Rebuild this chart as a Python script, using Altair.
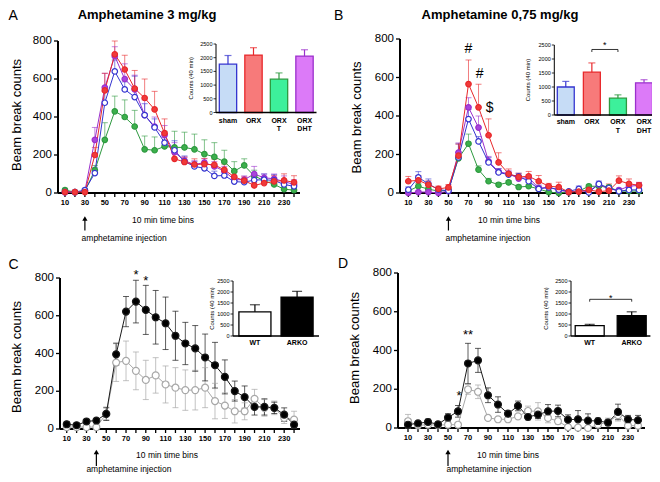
import altair as alt
import pandas as pd

W, H = 644, 466
FONT = "Liberation Sans"

bins = list(range(10, 241, 10))
y_ticks_main = [0, 200, 400, 600, 800]
y_ticks_inset = [0, 500, 1000, 1500, 2000, 2500]

# ---------------- Panel A: Amphetamine 3 mg/kg ----------------
a_groups = ["sham", "ORX", "ORX T", "ORX DHT"]
a_sham = [5, 5, 15, 105, 475, 640, 545, 505, 410, 345, 265, 225, 165, 140, 130, 90, 92, 60, 57, 68, 70, 66, 45, 35]
a_sham_sem = [10, 5, 10, 30, 60, 60, 40, 110, 60, 45, 45, 50, 30, 25, 30, 25, 25, 15, 15, 25, 30, 30, 25, 25]
a_orx = [5, 5, 5, 200, 540, 730, 650, 550, 500, 440, 315, 180, 163, 150, 152, 148, 122, 85, 65, 40, 52, 61, 66, 56]
a_orx_sem = [5, 5, 5, 40, 90, 70, 75, 95, 100, 95, 75, 40, 25, 30, 30, 30, 30, 25, 20, 15, 20, 30, 35, 35]
a_orxt = [15, 5, 10, 120, 280, 430, 400, 350, 230, 225, 245, 240, 240, 230, 205, 190, 165, 115, 145, 90, 65, 45, 20, 15]
a_orxt_sem = [10, 5, 10, 25, 90, 80, 90, 85, 70, 70, 80, 85, 80, 80, 75, 75, 60, 50, 35, 30, 20, 20, 15, 15]
a_dht = [5, 5, 10, 280, 555, 720, 600, 545, 410, 350, 305, 215, 170, 150, 160, 140, 115, 70, 70, 100, 80, 75, 60, 45]
a_dht_sem = [5, 5, 5, 65, 75, 50, 80, 75, 80, 50, 50, 50, 20, 20, 20, 25, 25, 15, 20, 40, 20, 25, 30, 25]
a_inset = [1765, 2095, 1215, 2060]
a_inset_sem = [315, 270, 230, 230]

# ---------------- Panel B: Amphetamine 0,75 mg/kg ----------------
b_sham = [17, 81, 48, 17, 12, 185, 384, 268, 159, 107, 95, 87, 61, 21, 29, 17, 9, 21, 3, 47, 26, 9, 16, 16]
b_sham_sem = [15, 30, 25, 15, 10, 70, 50, 25, 25, 20, 15, 15, 20, 20, 10, 15, 5, 15, 15, 15, 10, 10, 10, 10]
b_orx = [61, 66, 43, 21, 29, 194, 566, 445, 300, 159, 100, 83, 87, 61, 35, 31, 5, 7, 16, 7, 12, 64, 48, 40]
b_orx_sem = [25, 25, 20, 15, 15, 60, 125, 120, 85, 50, 25, 20, 25, 30, 15, 25, 10, 10, 10, 10, 35, 25, 25, 15]
b_orxt = [10, 35, 20, 10, 15, 180, 256, 121, 61, 43, 55, 31, 35, 21, 5, 0, 5, 10, 35, 35, 30, 10, 10, 10]
b_orxt_sem = [10, 15, 10, 10, 10, 30, 50, 20, 15, 10, 10, 10, 10, 10, 5, 5, 5, 10, 10, 10, 10, 5, 5, 5]
b_dht = [0, 5, 5, 0, 10, 210, 445, 340, 165, 110, 100, 75, 80, 25, 30, 15, 5, 10, 10, 45, 20, 15, 35, 40]
b_dht_sem = [5, 5, 5, 5, 5, 50, 50, 60, 25, 15, 15, 15, 15, 10, 10, 10, 5, 10, 10, 10, 10, 10, 15, 15]
b_inset = [1000, 1530, 600, 1150]
b_inset_sem = [200, 330, 120, 110]
b_sig_text = ["#", "#", "$"]
b_sig_bin = [70, 81, 91]
b_sig_y = [750, 620, 440]

# ---------------- Panel C ----------------
c_groups = ["WT", "ARKO"]
c_wt = [10, 10, 10, 10, 80, 352, 361, 308, 260, 284, 236, 219, 206, 206, 219, 148, 124, 94, 94, 160, 112, 112, 59, 50]
c_wt_sem = [5, 5, 5, 5, 30, 100, 105, 100, 104, 94, 98, 106, 107, 105, 106, 94, 68, 62, 45, 50, 44, 36, 30, 44]
c_arko = [25, 20, 40, 45, 80, 396, 622, 675, 631, 592, 560, 494, 453, 427, 379, 338, 276, 201, 169, 117, 117, 112, 76, 23]
c_arko_sem = [15, 10, 10, 10, 35, 59, 80, 113, 130, 142, 139, 130, 112, 121, 124, 121, 90, 53, 59, 43, 43, 30, 36, 15]
c_inset = [1100, 1770]
c_inset_sem = [320, 260]
c_sig_text = ["*", "*"]
c_sig_bin = [80, 90]
c_sig_y = [818, 783]

# ---------------- Panel D ----------------
d_wt = [35, 14, 17, 15, 17, 17, 199, 187, 52, 45, 45, 60, 88, 86, 52, 35, 5, 2, 0, 17, 31, 66, 12, 12]
d_wt_sem = [35, 10, 10, 10, 10, 10, 25, 35, 10, 10, 10, 10, 25, 45, 25, 15, 10, 10, 10, 15, 20, 30, 10, 10]
d_arko = [17, 24, 31, 19, 54, 86, 333, 349, 169, 121, 74, 114, 57, 69, 86, 88, 43, 45, 38, 36, 28, 83, 45, 40]
d_arko_sem = [10, 10, 15, 10, 20, 30, 104, 62, 38, 40, 15, 25, 15, 20, 35, 30, 25, 45, 35, 15, 15, 40, 20, 25]
d_inset = [470, 925]
d_inset_sem = [60, 175]
d_sig_text = ["**", "*"]
d_sig_bin = [70, 61]
d_sig_y = [480, 165]

# colours
ab_line = ["#3535d0", "#e8282b", "#2e9a40", "#9b30cc"]
ab_pts = ["#ffffff", "#f03a3a", "#3cb04c", "#a845dc"]
ab_inset_fill = ["#c6dcf6", "#f77a7a", "#3df09b", "#dc7af8"]
cd_line = ["#a8a8a8", "#1a1a1a"]
cd_pts = ["#ffffff", "#000000"]
cd_inset_fill = ["#ffffff", "#000000"]
cd_inset_stroke = ["#000000", "#000000"]


def txt(**kw):
    base = dict(font=FONT, color="black")
    base.update(kw)
    return base


def main_panel(groups, means, sems, draw_order, cfg, colors, fills, two_sided,
               pt_size, err_op, sig=None):
    rows = []
    for g in draw_order:
        i = groups.index(g)
        for b, mv, sv in zip(bins, means[i], sems[i]):
            rows.append({"bin": b, "group": g, "mean": mv,
                         "lo": (mv - sv) if two_sided else mv, "hi": mv + sv})
    df = pd.DataFrame(rows)
    xs = alt.Scale(domain=cfg["xdom"], range=cfg["xrng"], nice=False, zero=False)
    ys = alt.Scale(domain=[0, 800], range=cfg["yrng"], nice=False)
    cs = alt.Scale(domain=groups, range=colors)
    fs = alt.Scale(domain=groups, range=fills)
    y0 = cfg["yrng"][0]
    x0 = cfg["xrng"][0]

    def X(f="bin"):
        return alt.X(f"{f}:Q", scale=xs, axis=None)

    def Y(f):
        return alt.Y(f"{f}:Q", scale=ys, axis=None)

    C = alt.Color("group:N", scale=cs, legend=None)
    base = alt.Chart(df)
    layers = []

    # ---- axes drawn from the panel scales ----
    tdf = pd.DataFrame({"bin": bins, "lab": [str(b) if b % 20 == 10 else "" for b in bins]})
    dom = pd.DataFrame({"a": [cfg["xdom"][0]], "b": [cfg["xdom"][1]], "y0": [0], "y1": [800]})
    ydf = pd.DataFrame({"v": y_ticks_main, "lab": [str(v) for v in y_ticks_main]})
    layers.append(alt.Chart(dom).mark_rule(color="black", strokeWidth=2).encode(
        X("a"), x2="b:Q", y=alt.value(y0)))
    layers.append(alt.Chart(dom).mark_rule(color="black", strokeWidth=2).encode(
        x=alt.value(x0), y=Y("y0"), y2="y1:Q"))
    layers.append(alt.Chart(tdf).mark_rule(color="black", strokeWidth=1.3).encode(
        X(), y=alt.value(y0), y2=alt.value(y0 + 4)))
    layers.append(alt.Chart(tdf).mark_text(**txt(baseline="top", fontSize=7.5, fontWeight="bold")).encode(
        X(), y=alt.value(y0 + 5.5), text="lab:N"))
    layers.append(alt.Chart(ydf).mark_rule(color="black", strokeWidth=1.3).encode(
        x=alt.value(x0 - 4), x2=alt.value(x0), y=Y("v")))
    layers.append(alt.Chart(ydf).mark_text(**txt(align="right", baseline="middle", fontSize=11.5)).encode(
        x=alt.value(x0 - 6), y=Y("v"), text="lab:N"))
    layers.append(alt.Chart(dom).mark_text(**txt(text="10 min time bins", baseline="middle",
                                                 fontSize=8.5)).encode(
        x=alt.value(cfg["xtitle"][0]), y=alt.value(y0 + cfg["xtitle"][1])))
    layers.append(alt.Chart(dom).mark_text(**txt(text="Beam break counts", baseline="middle",
                                                 align="center", angle=270, fontSize=13)).encode(
        x=alt.value(x0 + cfg["ytitle"][0]), y=alt.value(cfg["ytitle"][1])))

    # ---- data ----
    layers.append(base.mark_rule(strokeWidth=1, opacity=err_op).encode(
        X(), y=Y("lo"), y2="hi:Q", color=C))
    layers.append(base.mark_tick(orient="horizontal", size=6, thickness=1, opacity=err_op).encode(
        X(), y=Y("hi"), color=C))
    if two_sided:
        layers.append(base.mark_tick(orient="horizontal", size=6, thickness=1, opacity=err_op).encode(
            X(), y=Y("lo"), color=C))
    layers.append(base.mark_line(strokeWidth=1).encode(X(), y=Y("mean"), color=C))
    layers.append(base.mark_point(filled=False, size=pt_size, strokeWidth=1.2, opacity=1).encode(
        X(), y=Y("mean"), color=C, fill=alt.Fill("group:N", scale=fs, legend=None)))

    # ---- injection arrow and label ----
    adf = pd.DataFrame({"t": [cfg["inj"]]})
    ab = alt.Chart(adf)
    ay0, ay1, aty, adx = cfg["arrow"]
    layers.append(ab.mark_rule(color="black", strokeWidth=1.2).encode(
        X("t"), y=alt.value(ay0 + 3), y2=alt.value(ay1)))
    layers.append(ab.mark_point(shape="triangle-up", filled=True, color="black", size=28, opacity=1).encode(
        X("t"), y=alt.value(ay0 + 2)))
    layers.append(ab.mark_text(**txt(text="amphetamine injection", align="left", baseline="middle",
                                     dx=adx, fontSize=8.5)).encode(X("t"), y=alt.value(aty)))
    if sig is not None:
        sdf = pd.DataFrame({"bin": sig[1], "y": sig[2], "txt": sig[0]})
        layers.append(alt.Chart(sdf).mark_text(**txt(baseline="middle", fontSize=sig[3])).encode(
            X(), y=Y("y"), text="txt:N"))
    return alt.layer(*layers)


def inset(groups, vals, sems, cfg, strokes, fills, cap, bracket=None):
    df = pd.DataFrame({"group": groups, "value": vals,
                       "hi": [v + s for v, s in zip(vals, sems)]})
    xs = alt.Scale(domain=groups, range=cfg["xrng"], paddingInner=cfg["pi"], paddingOuter=cfg["po"])
    ys = alt.Scale(domain=[0, 2500], range=cfg["yrng"], nice=False)
    ss = alt.Scale(domain=groups, range=strokes)
    fs = alt.Scale(domain=groups, range=fills)
    xr0, xr1 = cfg["xrng"]
    yr0, yr1 = cfg["yrng"]

    def X(f="group"):
        return alt.X(f"{f}:N", scale=xs, axis=None)

    def Y(f):
        return alt.Y(f"{f}:Q", scale=ys, axis=None)

    base = alt.Chart(df)
    ydf = pd.DataFrame({"v": y_ticks_inset, "lab": [str(v) for v in y_ticks_inset]})
    dom = pd.DataFrame({"y0": [0], "y1": [2500]})
    layers = [
        base.mark_bar(strokeWidth=1.3).encode(
            X(), y=Y("value"),
            fill=alt.Fill("group:N", scale=fs, legend=None),
            stroke=alt.Stroke("group:N", scale=ss, legend=None)),
        base.mark_rule(strokeWidth=1.2).encode(
            X(), y=Y("value"), y2="hi:Q", stroke=alt.Stroke("group:N", scale=ss, legend=None)),
        base.mark_tick(orient="horizontal", size=cap, thickness=1.2).encode(
            X(), y=Y("hi"), color=alt.Color("group:N", scale=ss, legend=None)),
        # axes
        alt.Chart(dom).mark_rule(color="black", strokeWidth=1.5).encode(
            x=alt.value(xr0), x2=alt.value(xr1), y=Y("y0")),
        alt.Chart(dom).mark_rule(color="black", strokeWidth=1).encode(
            x=alt.value(xr0), y=Y("y0"), y2="y1:Q"),
        alt.Chart(ydf).mark_rule(color="black", strokeWidth=0.8).encode(
            x=alt.value(xr0 - 2.5), x2=alt.value(xr0), y=Y("v")),
        alt.Chart(ydf).mark_text(**txt(align="right", baseline="middle", fontSize=5.5)).encode(
            x=alt.value(xr0 - 3.5), y=Y("v"), text="lab:N"),
        alt.Chart(dom).mark_text(**txt(text="Counts (40 min)", align="center", baseline="middle",
                                       angle=270, fontSize=6)).encode(
            x=alt.value(xr0 + cfg["tx"]), y=alt.value((yr0 + yr1) / 2)),
        base.mark_text(**txt(baseline="top", fontSize=7, fontWeight="bold", lineBreak=" ",
                             lineHeight=8.5)).encode(
            X(), y=alt.value(yr0 + cfg["lp"]), text="group:N"),
    ]
    if bracket is not None:
        g1, g2, yb, yd, ystar, dx = bracket
        bdf = pd.DataFrame({"a": [g1], "b": [g2], "y": [yb], "yd": [yd], "ys": [ystar]})
        bb = alt.Chart(bdf)
        layers.append(bb.mark_rule(color="black", strokeWidth=0.8).encode(
            X("a"), x2="b:N", y=Y("y")))
        layers.append(bb.mark_rule(color="black", strokeWidth=0.8).encode(
            X("a"), y=Y("y"), y2="yd:Q"))
        layers.append(bb.mark_rule(color="black", strokeWidth=0.8).encode(
            X("b"), y=Y("y"), y2="yd:Q"))
        layers.append(bb.mark_text(**txt(text="*", dx=dx, baseline="middle", fontSize=9)).encode(
            X("a"), y=Y("ys")))
    return alt.layer(*layers)


def label(text, x, y, size, weight="normal", align="left"):
    return alt.Chart(pd.DataFrame({"t": [text]})).mark_text(
        **txt(align=align, baseline="alphabetic", fontSize=size, fontWeight=weight)).encode(
        x=alt.value(x), y=alt.value(y), text="t:N")


cfgA = {"xdom": [3, 246], "xrng": [50, 292], "yrng": [185, 33], "xtitle": [155, 27],
        "ytitle": [-41.5, 107], "inj": 30, "arrow": [208.5, 222.5, 230, -3.3]}
cfgB = {"xdom": [1.7, 244], "xrng": [392, 635], "yrng": [185, 31], "xtitle": [501, 27],
        "ytitle": [-43, 109.5], "inj": 50, "arrow": [208.5, 222.5, 230, -3]}
cfgC = {"xdom": [3.2, 246], "xrng": [52, 292], "yrng": [421, 270], "xtitle": [159, 26],
        "ytitle": [-43.5, 349], "inj": 40, "arrow": [442, 458, 461, -10]}
cfgD = {"xdom": [0, 247], "xrng": [390, 637], "yrng": [420, 265], "xtitle": [500, 27],
        "ytitle": [-43, 340], "inj": 50, "arrow": [442, 458, 461, -1.5]}

icA = {"xrng": [208, 308.5], "yrng": [104.5, 36], "pi": 0.32, "po": 0.13, "tx": -25, "lp": 4}
icB = {"xrng": [546.3, 647.5], "yrng": [107, 37], "pi": 0.35, "po": 0.115, "tx": -26, "lp": 3}
icC = {"xrng": [225, 311], "yrng": [328, 273], "pi": 0.24, "po": 0.14, "tx": -21, "lp": 2.5}
icD = {"xrng": [563, 642.4], "yrng": [328, 273], "pi": 0.31, "po": 0.1, "tx": -25, "lp": 2.5}

ab_order = ["ORX T", "ORX DHT", "sham", "ORX"]
cd_order = ["WT", "ARKO"]

pA = main_panel(a_groups, [a_sham, a_orx, a_orxt, a_dht],
                [a_sham_sem, a_orx_sem, a_orxt_sem, a_dht_sem], ab_order, cfgA,
                ab_line, ab_pts, False, 30, 0.6)
pB = main_panel(a_groups, [b_sham, b_orx, b_orxt, b_dht],
                [b_sham_sem, b_orx_sem, b_orxt_sem, b_dht_sem], ab_order, cfgB,
                ab_line, ab_pts, False, 30, 0.6, sig=(b_sig_text, b_sig_bin, b_sig_y, 14))
pC = main_panel(c_groups, [c_wt, c_arko], [c_wt_sem, c_arko_sem], cd_order, cfgC,
                cd_line, cd_pts, True, 48, 0.7, sig=(c_sig_text, c_sig_bin, c_sig_y, 13))
pD = main_panel(c_groups, [d_wt, d_arko], [d_wt_sem, d_arko_sem], cd_order, cfgD,
                cd_line, cd_pts, True, 48, 0.7, sig=(d_sig_text, d_sig_bin, d_sig_y, 13))

iA = inset(a_groups, a_inset, a_inset_sem, icA, ab_line, ab_inset_fill, 7)
iB = inset(a_groups, b_inset, b_inset_sem, icB, ab_line, ab_inset_fill, 7,
           bracket=("ORX", "ORX T", 2340, 2250, 2510, 13))
iC = inset(c_groups, c_inset, c_inset_sem, icC, cd_inset_stroke, cd_inset_fill, 10)
iD = inset(c_groups, d_inset, d_inset_sem, icD, cd_inset_stroke, cd_inset_fill, 10,
           bracket=("WT", "ARKO", 1667, 1560, 1750, 21))

texts = [
    label("A", 0.5, 11.5, 14),
    label("B", 326, 11.5, 14),
    label("C", 0.5, 261, 14),
    label("D", 330, 260, 14),
    label("Amphetamine 3 mg/kg", 139, 11, 13, "bold", "center"),
    label("Amphetamine 0,75 mg/kg", 492, 11, 13, "bold", "center"),
]

chart = alt.layer(pA, iA, pB, iB, pC, iC, pD, iD, *texts).resolve_scale(
    x="independent", y="independent", color="independent", fill="independent",
    stroke="independent"
).properties(
    width=W, height=H, autosize=alt.AutoSizeParams(type="none"), padding=0
).configure_view(stroke=None)

chart.save("out.html", embed_options={"renderer": "svg", "actions": False})
